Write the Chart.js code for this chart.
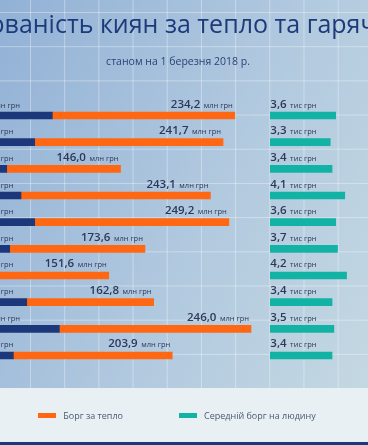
<!DOCTYPE html>
<html lang="uk">
<head>
<meta charset="utf-8">
<script src="https://cdn.jsdelivr.net/npm/chart.js@4.4.1/dist/chart.umd.min.js"></script>
<style>
  html, body { margin: 0; padding: 0; }
  body {
    width: 368px; height: 445px; overflow: hidden; position: relative;
    font-family: 'Open Sans', sans-serif; background: #e8f0f4;
  }
  .board {
    position: absolute; left: 0; top: 0; width: 368px; height: 388px;
    background-color: #a6c1dc;
    background-image:
      linear-gradient(to right, rgba(255,255,255,0.35) 1px, transparent 1px),
      linear-gradient(to bottom, rgba(255,255,255,0.35) 1px, transparent 1px),
      linear-gradient(115deg, #92b1d6 0%, #b1c9df 55%, #c4d8e2 100%);
    background-size: 34.2px 34.2px, 34.2px 34.2px, 100% 100%;
    background-position: 30px 0, 0 12px, 0 0;
  }
  .wrap { position: absolute; left: -100px; top: 0; width: 556px; height: 445px; }
  .legend {
    position: absolute; left: 0; top: 388px; width: 354px; height: 54px;
    display: flex; justify-content: center; align-items: center; gap: 56px;
    font-size: 9px; color: #4b5872;
  }
  .legend span.item { display: flex; align-items: center; }
  .legend i { display: inline-block; width: 18px; height: 5px; margin-right: 7px; }
  .bottom-line { position: absolute; left: 0; top: 442px; width: 368px; height: 3px; background: #1c3a7a; }
</style>
</head>
<body>
<div class="board"></div>
<div class="wrap"><canvas id="debtChart"></canvas></div>
<div class="legend" id="legend"></div>
<div class="bottom-line"></div>
<script>
// data, as of 1 March 2018
const districts = ['Голосіївський', 'Дарницький', 'Деснянський', 'Дніпровський', 'Оболонський',
  'Печерський', 'Подільський', 'Святошинський', 'Солом\'янський', 'Шевченківський'];
const hotWaterDebt = [115.9, 93.3, 57.4, 75.7, 93.3, 61.2, 36.7, 83.1, 124.9, 65.9]; // млн грн
const heatDebt = [234.2, 241.7, 146.0, 243.1, 249.2, 173.6, 151.6, 162.8, 246.0, 203.9]; // млн грн
const avgDebt = [3.6, 3.3, 3.4, 4.1, 3.6, 3.7, 4.2, 3.4, 3.5, 3.4]; // тис грн

const NUM_FONT = '600 11.5px "Open Sans"';
const UNIT_FONT = '7.5px "Open Sans"';

// value labels above the bars
const valueLabels = {
  id: 'valueLabels',
  afterDatasetsDraw(chart) {
    const c = chart.ctx;
    c.save();
    c.fillStyle = '#2d3857';
    c.textBaseline = 'alphabetic';
    chart.data.datasets.forEach((ds, di) => {
      chart.getDatasetMeta(di).data.forEach((bar, i) => {
        const num = ds.data[i].toFixed(1).replace('.', ',');
        c.font = NUM_FONT;
        const nw = c.measureText(num).width;
        c.font = UNIT_FONT;
        const uw = c.measureText(ds.unit).width;
        const gap = 3.5;
        const y = bar.y - 8;
        let x;
        if (ds.labelAtEnd) x = bar.x - 2 - uw - gap - nw;
        else x = bar.base + ds.labelShift;
        c.textAlign = 'left';
        c.font = NUM_FONT;
        c.fillText(num, x, y);
        c.font = UNIT_FONT;
        c.fillText(ds.unit, x + nw + gap, y);
      });
    });
    c.restore();
  }
};

const ctx = document.getElementById('debtChart').getContext('2d');

const chart = new Chart(ctx, {
  type: 'bar',
  data: {
    labels: districts,
    datasets: [
      {
        label: 'Борг за гарячу воду',
        data: hotWaterDebt,
        backgroundColor: '#1c377a',
        xAxisID: 'x',
        unit: 'млн грн',
        labelAtEnd: false,
        labelShift: -4,
        inLegend: false
      },
      {
        label: 'Борг за тепло',
        data: heatDebt,
        backgroundColor: '#ff6712',
        xAxisID: 'x',
        unit: 'млн грн',
        labelAtEnd: true,
        inLegend: true
      },
      {
        label: 'Середній борг на людину',
        data: avgDebt,
        backgroundColor: '#12b3a4',
        xAxisID: 'x2',
        unit: 'тис грн',
        labelAtEnd: false,
        labelShift: 0,
        inLegend: true
      }
    ]
  },
  options: {
    indexAxis: 'y',
    responsive: true,
    maintainAspectRatio: false,
    animation: false,
    datasets: {
      bar: { barThickness: 7, grouped: false, borderWidth: 0 }
    },
    layout: {
      padding: { left: 0, right: 0, top: 0, bottom: 76.2 }
    },
    scales: {
      y: {
        offset: true,
        grid: { display: false },
        border: { display: false },
        ticks: { color: '#1f3b7a', font: { family: 'Open Sans', size: 11 } },
        afterFit: (scale) => { scale.width = 62; }
      },
      x: { display: false, stacked: true, min: 0, max: 634 },
      x2: { display: false, min: -16.99, max: 10.23 }
    },
    plugins: {
      legend: { display: false },
      tooltip: { enabled: true },
      title: {
        display: true,
        text: 'Заборгованість киян за тепло та гарячу воду',
        color: '#1d3a7a',
        font: { family: 'Open Sans', size: 25, weight: '500' },
        padding: { top: 10.8, bottom: 6 }
      },
      subtitle: {
        display: true,
        text: 'станом на 1 березня 2018 р.',
        color: '#2a4478',
        font: { family: 'Open Sans', size: 10.5 },
        padding: { top: 8.8, bottom: 34 }
      }
    }
  },
  plugins: [valueLabels]
});

// html legend from the chart datasets
const legendBox = document.getElementById('legend');
chart.data.datasets.forEach(ds => {
  if (!ds.inLegend) return;
  const item = document.createElement('span');
  item.className = 'item';
  item.innerHTML = '<i style="background:' + ds.backgroundColor + '"></i>' + ds.label;
  legendBox.appendChild(item);
});
</script>
</body>
</html>
